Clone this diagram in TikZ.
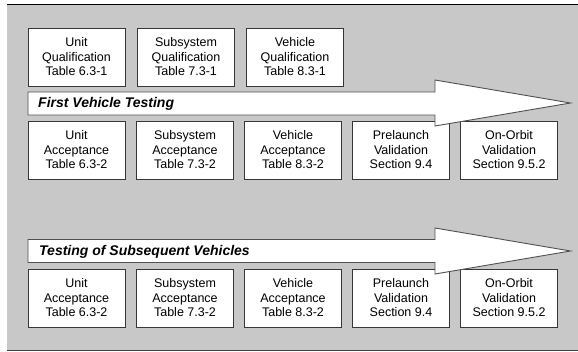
\documentclass[tikz,border=0pt]{standalone}
\usepackage{fontspec}
\setmainfont{Liberation Sans}
\begin{document}
\begin{tikzpicture}[x=1pt,y=-1pt,
  panel/.style={fill=panelgray,draw=none},
  box/.style={draw=boxline,line width=1pt,fill=white,minimum width=97pt,minimum height=58pt,
    inner sep=0pt,align=center,font=\fontsize{12.5}{14.5}\selectfont},
  flow/.style={draw=arrowline,line width=0.9pt,fill=white,line join=miter},
  flowlabel/.style={anchor=west,inner sep=0pt,font=\fontsize{14}{16}\selectfont\bfseries\itshape}]
\definecolor{panelgray}{RGB}{200,200,200}
\definecolor{boxline}{RGB}{55,55,55}
\definecolor{arrowline}{RGB}{80,80,80}
\useasboundingbox (0,0) rectangle (578,351);
% grey panel with its top and bottom rules
\fill[panelgray] (7,4.5) rectangle (578,350);
\draw[black,line width=1.3pt] (7,4.5) -- (578,4.5);
\draw[black!75,line width=1pt] (7,350) -- (578,350);

% qualification row
\node[box] (uq) at (76.5,57) {Unit\\Qualification\\Table 6.3-1};
\node[box] (sq) at (186,57) {Subsystem\\Qualification\\Table 7.3-1};
\node[box] (vq) at (295,57) {Vehicle\\Qualification\\Table 8.3-1};

% first vehicle acceptance row
\node[box] (ua1) at (76.5,150) {Unit\\Acceptance\\Table 6.3-2};
\node[box] (sa1) at (185,150) {Subsystem\\Acceptance\\Table 7.3-2};
\node[box] (va1) at (293,150) {Vehicle\\Acceptance\\Table 8.3-2};
\node[box] (pv1) at (401,150) {Prelaunch\\Validation\\Section 9.4};
\node[box] (ov1) at (509,150) {On-Orbit\\Validation\\Section 9.5.2};

% subsequent vehicles row
\node[box] (ua2) at (76.5,298) {Unit\\Acceptance\\Table 6.3-2};
\node[box] (sa2) at (185,298) {Subsystem\\Acceptance\\Table 7.3-2};
\node[box] (va2) at (293,298) {Vehicle\\Acceptance\\Table 8.3-2};
\node[box] (pv2) at (401,298) {Prelaunch\\Validation\\Section 9.4};
\node[box] (ov2) at (509,298) {On-Orbit\\Validation\\Section 9.5.2};

% block arrows
\draw[flow] (28,92) -- (435,92) -- (435,80) -- (570.5,103) -- (435,126) -- (435,115) -- (28,115) -- cycle;
\node[flowlabel] (first) at (38,103.5) {First Vehicle Testing};

\draw[flow] (28,239.5) -- (435,239.5) -- (435,228) -- (570.5,251) -- (435,274) -- (435,262.5) -- (28,262.5) -- cycle;
\node[flowlabel] (subseq) at (39,251.5) {Testing of Subsequent Vehicles};
\end{tikzpicture}
\end{document}
